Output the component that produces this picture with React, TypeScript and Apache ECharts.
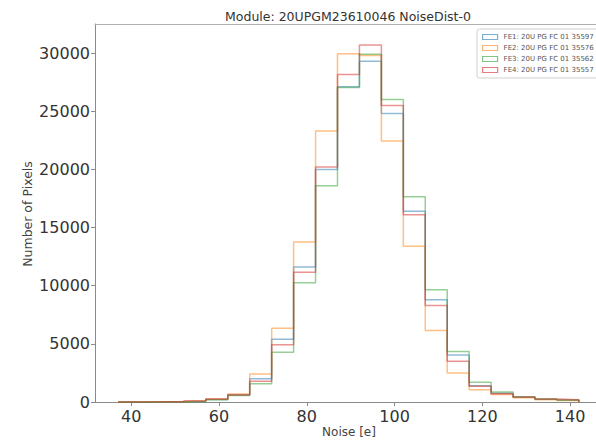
import React, { useEffect, useRef } from "react";
import * as echarts from "echarts";

const binEdges = [37, 42, 47, 52, 57, 62, 67, 72, 77, 82, 87, 92, 97, 102, 107, 112, 117, 122, 127, 132, 137, 142];

const fe1 = [10, 15, 20, 60, 220, 620, 2000, 5400, 11600, 20000, 27100, 29300, 24800, 16400, 8800, 4050, 1400, 760, 400, 230, 150];
const fe2 = [15, 20, 30, 80, 260, 680, 2400, 6350, 13750, 23300, 29950, 29800, 22450, 13400, 6150, 2500, 1050, 650, 360, 200, 130];
const fe3 = [10, 10, 20, 50, 190, 560, 1570, 4270, 10250, 18600, 27050, 29900, 26000, 17650, 9650, 4350, 1700, 870, 450, 260, 170];
const fe4 = [10, 15, 25, 110, 260, 600, 1780, 4930, 11150, 20200, 28150, 30700, 25500, 16100, 8300, 3500, 1350, 700, 420, 250, 200];

const seriesNames = [
  "FE1: 20U PG FC 01 35597",
  "FE2: 20U PG FC 01 35576",
  "FE3: 20U PG FC 01 35562",
  "FE4: 20U PG FC 01 35557",
];
const seriesValues = [fe1, fe2, fe3, fe4];
const colors = ["#1f77b4", "#ff7f0e", "#2ca02c", "#d62728"];

const xTicks = [40, 60, 80, 100, 120, 140];
const yTicks = [0, 5000, 10000, 15000, 20000, 25000, 30000];

const titleText = "Module: 20UPGM23610046 NoiseDist-0";
const xName = "Noise [e]";
const yName = "Number of Pixels";

const FONT = "DejaVu Sans";

function stepData(vals: number[]): number[][] {
  const pts: number[][] = [[binEdges[0], 0]];
  vals.forEach((v, i) => pts.push([binEdges[i], v]));
  pts.push([binEdges[binEdges.length - 1], 0]);
  return pts;
}

export default function App() {
  const ref = useRef<HTMLDivElement>(null);
  useEffect(() => {
    if (!ref.current) return;
    const chart = echarts.init(ref.current, undefined, { renderer: "svg" });
    const spine = "#8a8a8a";
    const xMin = 31.75;
    const xMax = 145.9;
    chart.setOption({
      animation: false,
      backgroundColor: "#ffffff",
      grid: {
        left: 95,
        right: 0,
        top: 24,
        bottom: 42,
        show: false,
      },
      xAxis: [
        {
          type: "value",
          min: xMin,
          max: xMax,
          position: "bottom",
          axisLine: { show: true, lineStyle: { color: spine, width: 1 } },
          axisTick: { show: true, customValues: xTicks, length: 4, lineStyle: { color: spine } },
          axisLabel: {
            customValues: xTicks,
            margin: 6,
            fontSize: 16,
            fontFamily: FONT,
            color: "#333",
          },
          splitLine: { show: false },
        },
        {
          type: "value",
          min: xMin,
          max: xMax,
          position: "top",
          axisLine: { show: true, lineStyle: { color: "#b0b0b0", width: 1 } },
          axisTick: { show: false },
          axisLabel: { show: false },
          splitLine: { show: false },
        },
      ],
      yAxis: {
        type: "value",
        min: 0,
        max: 32500,
        axisLine: { show: true, lineStyle: { color: spine, width: 1 } },
        axisTick: { show: true, customValues: yTicks, length: 4, lineStyle: { color: spine } },
        axisLabel: {
          customValues: yTicks,
          margin: 5,
          fontSize: 16,
          fontFamily: FONT,
          color: "#333",
          formatter: (v: number) => String(v),
        },
        splitLine: { show: false },
      },
      legend: {
        orient: "vertical",
        left: 477,
        top: 29,
        padding: [4, 6, 4, 5],
        itemGap: 3,
        itemWidth: 15,
        itemHeight: 5,
        icon: "rect",
        backgroundColor: "#ffffff",
        borderColor: "#d0d0d0",
        borderWidth: 1,
        borderRadius: 2,
        textStyle: { fontSize: 7, fontFamily: FONT, color: "#555", lineHeight: 8, padding: [0, 0, 0, 1] },
        data: seriesNames.map((n, i) => ({
          name: n,
          itemStyle: { color: "#ffffff", borderColor: colors[i], borderWidth: 1.2, opacity: 0.6 },
        })),
      },
      graphic: [
        {
          type: "text",
          x: 348,
          y: 16,
          style: {
            text: titleText,
            fontSize: 12.5,
            fontFamily: FONT,
            fill: "#333",
            align: "center",
            verticalAlign: "middle",
          },
        },
        {
          type: "text",
          x: 349,
          y: 432,
          style: {
            text: xName,
            fontSize: 12,
            fontFamily: FONT,
            fill: "#444",
            align: "center",
            verticalAlign: "middle",
          },
        },
        {
          type: "text",
          x: 27,
          y: 214,
          rotation: Math.PI / 2,
          style: {
            text: yName,
            fontSize: 12.5,
            fontFamily: FONT,
            fill: "#444",
            align: "center",
            verticalAlign: "middle",
          },
        },
      ],
      series: seriesValues.map((vals, i) => ({
        name: seriesNames[i],
        type: "line",
        step: "end",
        symbol: "none",
        xAxisIndex: 0,
        data: stepData(vals),
        itemStyle: { color: colors[i] },
        lineStyle: { color: colors[i], width: 1.5, opacity: 0.5 },
      })),
    });
    return () => chart.dispose();
  }, []);
  return (
    <div
      ref={ref}
      style={{ position: "absolute", left: 0, top: 0, width: 596, height: 444, background: "#fff" }}
    />
  );
}
